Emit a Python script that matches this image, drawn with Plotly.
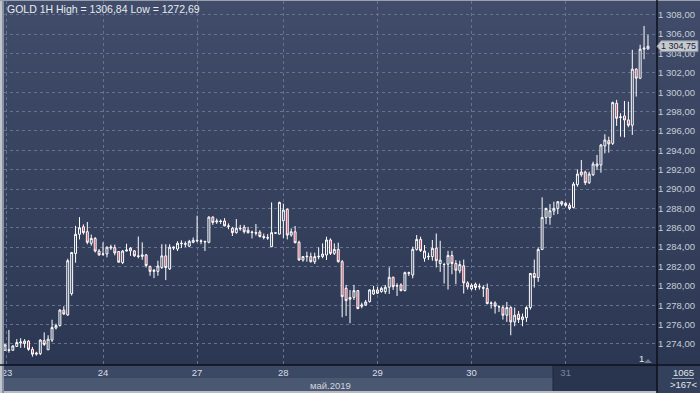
import plotly.graph_objects as go

# ---------------- data (hourly GOLD candles, 23-31 May 2019) ----------------
open_ = [
    1273.35, 1273.4, 1273.35, 1273.75, 1274.1, 1274.05, 1274.3, 1273.45, 1272.95, 1273.0,
    1274.35, 1273.4, 1274.4, 1275.65, 1275.9, 1277.5, 1277.0, 1279.2, 1283.35, 1285.33,
    1286.1, 1285.6, 1284.4, 1284.9, 1283.6, 1283.25, 1283.3, 1283.9, 1283.95, 1283.55,
    1282.4, 1283.6, 1283.62, 1283.62, 1283.1, 1283.05, 1283.2, 1282.0, 1281.5, 1281.5,
    1281.9, 1283.1, 1281.75, 1283.9, 1283.8, 1284.35, 1284.3, 1284.1, 1284.5, 1284.65,
    1284.65, 1284.6, 1284.5, 1287.1, 1286.6, 1286.7,
    1286.7, 1286.2, 1285.95, 1285.5, 1285.95, 1286.05, 1285.75, 1285.5, 1285.5, 1285.55,
    1285.1, 1285.0, 1284.05, 1285.45, 1285.35, 1286.73, 1287.9, 1285.25, 1285.59, 1284.5,
    1282.67, 1283.0, 1283.02, 1282.5, 1283.0, 1283.02, 1283.19, 1284.74, 1283.36, 1283.77,
    1282.5, 1279.75, 1278.62, 1278.82, 1279.51, 1277.9, 1278.03, 1278.38, 1279.17, 1279.58,
    1279.41, 1279.41, 1279.86, 1280.89, 1280.03, 1280.1, 1279.51, 1281.3, 1281.13, 1283.77,
    1284.8, 1282.85, 1283.0, 1283.02, 1283.9,
    1282.31, 1282.21, 1282.24, 1283.14, 1282.31, 1281.55, 1282.07, 1280.31, 1279.69, 1280.17,
    1279.9, 1279.83, 1279.72, 1278.2, 1278.24, 1277.83, 1277.76, 1276.97, 1277.76, 1276.28,
    1277.07, 1276.52, 1276.72, 1277.76, 1281.28, 1280.86, 1283.76, 1287.07, 1287.07, 1287.72,
    1288.0, 1288.69, 1288.52, 1288.34, 1288.1, 1290.45, 1291.48, 1291.76, 1290.66, 1291.48,
    1292.38, 1292.48, 1294.45, 1295.0, 1294.72, 1298.86, 1297.38, 1297.55, 1297.14, 1296.59,
    1302.38, 1301.45, 1304.45, 1304.48,
]
high = [
    1274.0, 1275.45, 1273.85, 1274.5, 1274.6, 1274.5, 1274.4, 1273.7, 1273.2, 1274.5,
    1275.2, 1274.9, 1276.5, 1276.1, 1277.6, 1277.9, 1282.8, 1283.5, 1286.2, 1287.1,
    1286.35, 1286.6, 1285.3, 1285.05, 1283.8, 1284.5, 1284.05, 1284.25, 1284.25, 1283.6,
    1283.7, 1284.35, 1284.0, 1283.7, 1285.1, 1284.5, 1283.3, 1282.1, 1281.75, 1282.6,
    1284.3, 1284.3, 1284.3, 1284.05, 1284.6, 1284.7, 1284.6, 1284.75, 1285.0, 1287.25,
    1284.8, 1284.65, 1287.2, 1287.2, 1286.95, 1286.85,
    1287.0, 1286.45, 1286.1, 1286.9, 1286.3, 1286.3, 1286.1, 1285.7, 1286.4, 1285.75,
    1285.4, 1285.35, 1288.62, 1285.5, 1288.7, 1288.5, 1288.0, 1285.94, 1286.18, 1284.67,
    1283.09, 1283.53, 1283.43, 1283.43, 1283.98, 1284.39, 1285.08, 1284.91, 1284.39, 1284.46,
    1282.67, 1280.1, 1279.58, 1280.1, 1279.58, 1278.27, 1278.55, 1279.65, 1280.0, 1279.92,
    1279.92, 1280.1, 1281.92, 1280.96, 1280.27, 1280.27, 1281.47, 1281.47, 1284.05, 1285.25,
    1285.08, 1284.22, 1283.43, 1284.74, 1285.41,
    1284.66, 1282.38, 1283.62, 1283.62, 1282.66, 1282.6, 1282.72, 1280.48, 1280.24, 1280.34,
    1280.24, 1280.07, 1280.24, 1278.4, 1278.41, 1277.97, 1278.0, 1278.34, 1277.9, 1277.76,
    1277.41, 1277.14, 1277.9, 1281.34, 1282.72, 1283.97, 1289.14, 1288.07, 1288.45, 1288.69,
    1288.76, 1288.79, 1288.66, 1288.59, 1290.72, 1292.03, 1293.0, 1291.9, 1291.79, 1292.83,
    1293.52, 1294.66, 1295.66, 1295.41, 1299.03, 1299.21, 1297.83, 1299.1, 1299.03, 1304.38,
    1302.48, 1304.9, 1306.84, 1305.93,
]
low = [
    1273.3, 1273.1, 1273.3, 1273.7, 1273.6, 1273.6, 1273.3, 1272.69, 1272.8, 1272.85,
    1273.8, 1273.4, 1274.2, 1275.5, 1275.8, 1277.0, 1276.9, 1279.0, 1282.4, 1284.8,
    1285.3, 1284.3, 1284.15, 1283.45, 1283.1, 1283.1, 1282.95, 1283.7, 1283.15, 1282.4,
    1282.25, 1283.55, 1283.1, 1283.0, 1282.85, 1282.7, 1281.9, 1281.05, 1280.8, 1281.05,
    1281.75, 1280.6, 1281.65, 1283.7, 1283.6, 1283.9, 1284.0, 1284.0, 1284.4, 1284.5,
    1284.3, 1283.6, 1284.4, 1286.3, 1286.4, 1286.4,
    1286.15, 1285.85, 1285.15, 1285.4, 1285.7, 1285.4, 1285.4, 1284.9, 1285.2, 1285.0,
    1284.8, 1284.75, 1284.0, 1285.4, 1285.3, 1284.91, 1284.8, 1285.08, 1284.39, 1282.6,
    1282.5, 1282.5, 1282.4, 1282.26, 1282.74, 1282.85, 1282.67, 1283.19, 1283.19, 1282.4,
    1276.76, 1276.9, 1276.14, 1278.55, 1277.59, 1277.69, 1277.93, 1278.27, 1279.07, 1279.17,
    1279.3, 1279.17, 1279.17, 1279.58, 1278.96, 1279.44, 1279.44, 1281.02, 1280.78, 1283.64,
    1283.5, 1282.5, 1282.67, 1282.6, 1281.9,
    1281.45, 1280.24, 1279.62, 1281.2, 1280.17, 1281.3, 1279.21, 1279.62, 1279.55, 1279.55,
    1279.62, 1278.86, 1278.1, 1277.66, 1277.14, 1277.31, 1276.52, 1276.28, 1274.9, 1275.83,
    1276.17, 1275.83, 1276.28, 1277.55, 1279.83, 1280.41, 1283.7, 1286.38, 1286.31, 1287.31,
    1287.41, 1288.24, 1288.17, 1287.83, 1288.0, 1290.24, 1291.28, 1290.41, 1290.52, 1291.34,
    1291.97, 1291.69, 1293.69, 1293.76, 1294.55, 1296.52, 1295.41, 1295.34, 1296.38, 1295.59,
    1299.55, 1301.35, 1303.41, 1304.38,
]
close = [
    1273.9, 1273.35, 1273.8, 1274.15, 1274.2, 1274.3, 1273.45, 1272.95, 1273.05, 1274.4,
    1273.95, 1274.5, 1275.7, 1275.9, 1277.5, 1277.1, 1282.6, 1283.45, 1285.33, 1286.0,
    1285.5, 1284.5, 1284.9, 1283.6, 1283.2, 1283.3, 1284.0, 1284.0, 1283.4, 1282.45,
    1283.6, 1283.7, 1283.9, 1283.1, 1283.05, 1283.2, 1282.1, 1281.5, 1281.6, 1282.05,
    1283.1, 1281.9, 1284.0, 1284.0, 1284.4, 1284.4, 1284.35, 1284.6, 1284.7, 1284.7,
    1284.6, 1284.55, 1287.1, 1286.55, 1286.7, 1286.65,
    1286.2, 1286.15, 1285.5, 1285.95, 1285.9, 1285.6, 1285.5, 1285.55, 1285.45, 1285.1,
    1285.0, 1284.95, 1285.5, 1285.47, 1288.62, 1287.83, 1285.25, 1285.59, 1284.46, 1282.67,
    1283.02, 1283.05, 1282.5, 1283.02, 1283.05, 1283.29, 1284.74, 1283.36, 1283.77, 1282.5,
    1278.89, 1278.48, 1278.8, 1279.51, 1277.66, 1278.03, 1278.34, 1279.58, 1279.58, 1279.24,
    1279.75, 1279.86, 1280.89, 1279.92, 1280.0, 1279.51, 1281.37, 1281.35, 1283.77, 1284.8,
    1283.64, 1283.6, 1283.05, 1283.88, 1282.6,
    1282.66, 1282.2, 1283.14, 1282.31, 1281.62, 1282.2, 1280.31, 1279.9, 1280.07, 1279.83,
    1279.92, 1279.76, 1278.17, 1278.22, 1277.9, 1277.85, 1276.97, 1277.76, 1276.28, 1276.97,
    1276.52, 1276.79, 1277.76, 1281.28, 1280.86, 1283.76, 1287.07, 1288.0, 1287.76, 1288.0,
    1288.69, 1288.45, 1288.31, 1288.0, 1290.52, 1291.55, 1291.76, 1290.66, 1291.55, 1292.59,
    1292.59, 1294.55, 1295.07, 1294.66, 1298.93, 1297.31, 1297.45, 1297.14, 1296.59, 1302.38,
    1301.45, 1304.45, 1304.55, 1304.75,
]
day_labels = ["23", "24", "27", "28", "29", "30", "31"]
day_bar_index = [0.5, 25, 49, 71, 95, 119, 143]
price_ticks = list(range(1274, 1309, 2))
symbol, period = "GOLD", "1H"
month_label = "май.2019"
bars_total_label = "1065"
bars_shown_label = ">167<"

# ---------------- geometry helpers (layout only) ----------------
W, H = 700, 393
ML, MR, MT, MB = 4, 43, 1, 28
PW, PH = W - ML - MR, H - MT - MB
Y0, Y1 = 1271.83, 1309.42


def px(x):
    return (x - ML) / PW


def py(y):
    return (H - MB - y) / PH


def fmt_plain(v):
    return f"{v:.2f}".replace(".", ",")


def fmt_grouped(v):
    return f"{v:,.2f}".replace(",", " ").replace(".", ",")


n = len(close)
xs = list(range(n))

fig = go.Figure()
fig.add_trace(go.Candlestick(
    x=xs, open=open_, high=high, low=low, close=close,
    increasing=dict(line=dict(color="#ffffff", width=1), fillcolor="#303d59"),
    decreasing=dict(line=dict(color="#ffffff", width=1), fillcolor="#c43f58"),
    whiskerwidth=0, hoverinfo="skip", showlegend=False,
))

shapes = []
# background gradient
top_c = (0x40, 0x4c, 0x69)
bot_c = (0x2c, 0x38, 0x53)
nb = 40
for k in range(nb):
    t = (k + 0.5) / nb
    c = tuple(int(round(top_c[i] + (bot_c[i] - top_c[i]) * t)) for i in range(3))
    y0 = (H - MB) * k / nb
    y1 = (H - MB) * (k + 1) / nb
    shapes.append(dict(type="rect", xref="paper", yref="paper", x0=px(0), x1=px(W),
                       y0=py(y1 + 0.5), y1=py(y0), fillcolor="rgb(%d,%d,%d)" % c,
                       line=dict(width=0), layer="below"))
# bottom time-scale strip
shapes += [
    dict(type="rect", xref="paper", yref="paper", x0=px(0), x1=px(553), y0=py(378), y1=py(365),
         fillcolor="#3c4964", line=dict(width=0), layer="below"),
    dict(type="rect", xref="paper", yref="paper", x0=px(0), x1=px(553), y0=py(391), y1=py(378),
         fillcolor="#4b5871", line=dict(width=0), layer="below"),
    dict(type="rect", xref="paper", yref="paper", x0=px(553), x1=px(657), y0=py(391), y1=py(365),
         fillcolor="#29354f", line=dict(width=0), layer="below"),
    dict(type="rect", xref="paper", yref="paper", x0=px(657), x1=px(W), y0=py(H), y1=py(365),
         fillcolor="#34415c", line=dict(width=0), layer="below"),
    dict(type="line", xref="paper", yref="paper", x0=px(553), x1=px(553), y0=py(391), y1=py(365),
         line=dict(color="#1e2639", width=1), layer="below"),
    dict(type="rect", xref="paper", yref="paper", x0=px(0), x1=px(657), y0=py(H), y1=py(391),
         fillcolor="#b7bcc4", line=dict(width=0), layer="above"),
    dict(type="rect", xref="paper", yref="paper", x0=px(0), x1=px(2), y0=py(H), y1=py(0),
         fillcolor="#c2c6cd", line=dict(width=0), layer="above"),
    dict(type="rect", xref="paper", yref="paper", x0=px(2), x1=px(4), y0=py(H), y1=py(0),
         fillcolor="#8a93a3", line=dict(width=0), layer="above"),
    dict(type="rect", xref="paper", yref="paper", x0=px(0), x1=px(W), y0=py(1), y1=py(0),
         fillcolor="#9aa1ad", line=dict(width=0), layer="above"),
    # frame lines
    dict(type="line", xref="paper", yref="paper", x0=px(657), x1=px(657), y0=py(H), y1=py(0),
         line=dict(color="#0c1019", width=1.5), layer="above"),
    dict(type="line", xref="paper", yref="paper", x0=px(0), x1=px(W), y0=py(365), y1=py(365),
         line=dict(color="#0c1019", width=1.5), layer="above"),
    dict(type="line", xref="paper", yref="paper", x0=px(672), x1=px(694), y0=py(378.5), y1=py(378.5),
         line=dict(color="#9aa3b3", width=1), layer="above"),
    # small marker next to "1"
    dict(type="path", xref="paper", yref="paper",
         path=f"M {px(644)},{py(363)} L {px(652)},{py(363)} L {px(648)},{py(359)} Z",
         fillcolor="#6e7992", line=dict(width=0), layer="above"),
]
# last price tag
last = close[-1]
d = 5.4 / (PH / (Y1 - Y0))
shapes.append(dict(type="path", xref="paper", yref="y",
                   path=(f"M {px(657)},{last} L {px(661)},{last + d} L {px(698)},{last + d} "
                         f"L {px(698)},{last - d} L {px(661)},{last - d} Z"),
                   fillcolor="#c5c9d0", line=dict(color="#8e95a1", width=1), layer="above"))

font_name = "Liberation Sans"
annotations = [
    dict(text=f"{symbol} {period} High = {fmt_plain(max(high))} Low = {fmt_plain(min(low))}",
         xref="paper", yref="paper", x=px(5), y=py(9), xanchor="left", yanchor="middle",
         showarrow=False, font=dict(family=font_name, size=10.5, color="#e9ecf1")),
    dict(text=fmt_grouped(last), xref="paper", yref="y", x=px(678), y=last, xanchor="center",
         yanchor="middle", showarrow=False, borderpad=0,
         font=dict(family=font_name, size=9, color="#1e2330")),
    dict(text="1", xref="paper", yref="paper", x=px(641), y=py(358), xanchor="center",
         yanchor="middle", showarrow=False, font=dict(family=font_name, size=9.5, color="#e9ecf1")),
    dict(text=month_label, xref="paper", yref="paper", x=px(331), y=py(385), xanchor="center",
         yanchor="middle", showarrow=False, font=dict(family=font_name, size=9.5, color="#cfd5df")),
    dict(text=bars_total_label, xref="paper", yref="paper", x=px(683), y=py(372), xanchor="center",
         yanchor="middle", showarrow=False, font=dict(family=font_name, size=9.5, color="#e3e6ec")),
    dict(text=bars_shown_label, xref="paper", yref="paper", x=px(683), y=py(384.5), xanchor="center",
         yanchor="middle", showarrow=False, font=dict(family=font_name, size=9.5, color="#e3e6ec")),
]

ticktext = [t if t != day_labels[-1] else f"<span style='color:#7a86a0'>{t}</span>"
            for t in day_labels]

fig.update_layout(
    width=W, height=H,
    margin=dict(l=ML, r=MR, t=MT, b=MB, pad=0),
    paper_bgcolor="#35425e", plot_bgcolor="rgba(0,0,0,0)",
    separators=", ",
    font=dict(family=font_name, size=9.5, color="#c8cfda"),
    shapes=shapes, annotations=annotations,
    xaxis=dict(range=[-0.255, 166.3], tickvals=day_bar_index, ticktext=ticktext,
               showgrid=True, gridcolor="#65738f", griddash="3px,3px", gridwidth=1,
               zeroline=False, showline=False, ticks="", rangeslider=dict(visible=False),
               tickfont=dict(family=font_name, size=9.5, color="#d8dde5"), fixedrange=True),
    yaxis=dict(side="right", range=[Y0, Y1], tickvals=price_ticks, tickformat=",.2f",
               showgrid=True, gridcolor="#65738f", griddash="3px,3px", gridwidth=1,
               zeroline=False, showline=False, ticks="",
               tickfont=dict(family=font_name, size=9.5, color="#c6cdd9"), fixedrange=True),
    hovermode=False,
)

fig.write_html("out.html", config={"displayModeBar": False})
